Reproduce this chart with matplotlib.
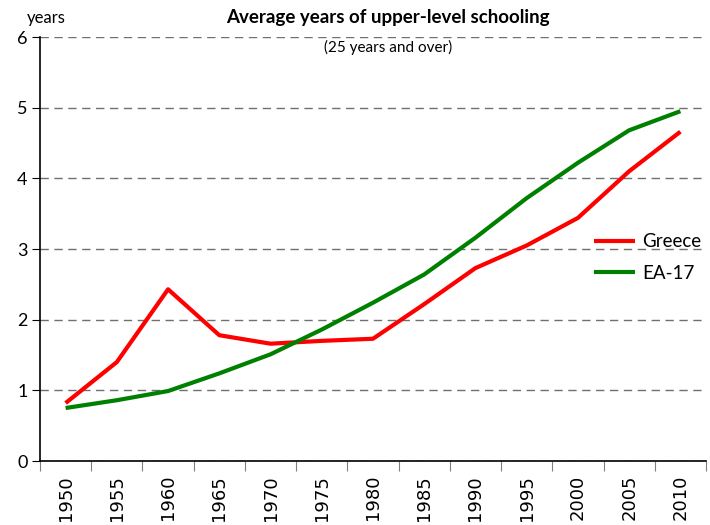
import matplotlib.pyplot as plt

# data
years = ['1950', '1955', '1960', '1965', '1970', '1975', '1980',
         '1985', '1990', '1995', '2000', '2005', '2010']
greece = [0.82, 1.40, 2.43, 1.78, 1.66, 1.70, 1.73, 2.22, 2.73, 3.05, 3.44, 4.10, 4.66]
ea17 = [0.75, 0.86, 0.99, 1.24, 1.51, 1.86, 2.24, 2.64, 3.16, 3.72, 4.22, 4.68, 4.95]

fig = plt.figure(figsize=(7.1, 5.25), dpi=100)
ax = fig.add_axes([40 / 710, 1 - 461 / 525, 666 / 710, 424 / 525])

x = list(range(len(years)))
ax.plot(x, greece, color='#ff0000', lw=3, label='Greece', solid_capstyle='butt')
ax.plot(x, ea17, color='#008000', lw=3, label='EA-17', solid_capstyle='butt')

ax.set_xlim(-0.5, len(years) - 0.5)
ax.set_ylim(0, 6)
ax.set_yticks(range(0, 7))
ax.yaxis.grid(True, linestyle=(0, (6, 4)), color='#707070', lw=1)
ax.set_axisbelow(True)

# ticks sit between categories, labels in the middle
ax.set_xticks([i - 0.5 for i in range(len(years) + 1)])
ax.set_xticklabels([])
ax.set_xticks(x, minor=True)
ax.set_xticklabels(years, minor=True, rotation=90, fontsize=13,
                   family='DejaVu Sans')
ax.tick_params(axis='x', which='major', length=7, color='#808080', direction='out')
ax.tick_params(axis='x', which='minor', length=0, pad=10)
ax.tick_params(axis='y', length=6, direction='out', labelsize=13, pad=3)
for lab in ax.get_yticklabels():
    lab.set_family('Lato')

for s in ['top', 'right']:
    ax.spines[s].set_visible(False)
ax.spines['left'].set_linewidth(1.2)
ax.spines['bottom'].set_linewidth(1.2)

fig.text(388 / 710, 1 - 18 / 525, 'Average years of upper-level schooling',
         ha='center', va='center', fontsize=13.5, fontweight='bold', family='Lato')
fig.text(388 / 710, 1 - 47 / 525, '(25 years and over)',
         ha='center', va='center', fontsize=11, family='Lato')
fig.text(27 / 710, 1 - 18 / 525, 'years', ha='left', va='center',
         fontsize=12, family='Lato')

ax.legend(loc='center left', bbox_to_anchor=(0.806, 0.48), frameon=False,
          prop={'family': 'Lato', 'size': 13.5}, handlelength=2.2,
          handletextpad=0.4, labelspacing=0.75)

fig.savefig('out.png', dpi=100)
